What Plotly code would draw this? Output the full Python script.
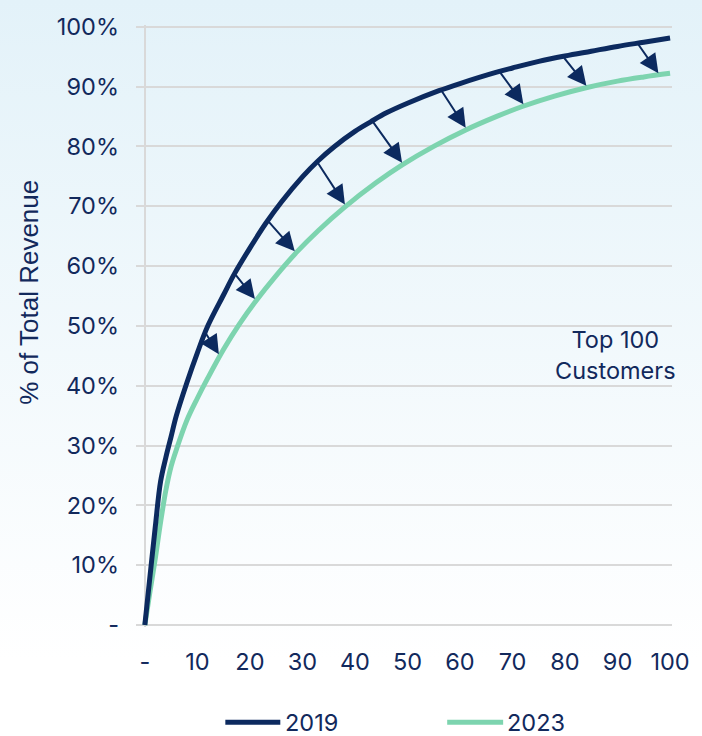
import numpy as np
import plotly.graph_objects as go

# ---------------- data ----------------
x_2019 = [0, 1, 2, 3, 4, 5, 6, 8, 10, 12, 15, 17, 20, 23, 26, 30, 33, 36, 40, 43, 46,
          50, 56, 60, 67, 70, 75, 80, 85, 90, 95, 100]
rev_2019 = [0, 8.3, 16.5, 24.0, 28.0, 31.5, 35.0, 40.5, 45.5, 50.0, 55.2, 58.6, 63.0, 67.1,
            70.7, 74.9, 77.6, 79.9, 82.5, 84.1, 85.6, 87.2, 89.3, 90.5, 92.4, 93.1, 94.2,
            95.1, 95.9, 96.7, 97.4, 98.1]

x_2023 = [0, 1, 2, 3, 4, 5, 6, 8, 10, 12, 15, 18, 21, 25, 29, 33, 38, 44, 49, 55, 61, 67,
          72, 78, 84, 90, 95, 100]
rev_2023 = [0, 5.7, 11.2, 17.2, 22.5, 26.5, 29.3, 34.2, 37.9, 41.3, 46.1, 50.3, 54.0, 58.4,
            62.4, 65.9, 69.8, 73.9, 76.9, 80.0, 82.7, 85.0, 86.7, 88.4, 89.8, 90.9, 91.6,
            92.2]

# arrows: start on the 2019 curve, point to the 2023 curve
arrow_from_x = [11.5, 17.1, 23.4, 32.8, 43.3, 56.4, 67.5, 79.6, 93.8]
arrow_to_x = [14.3, 21.2, 28.8, 38.3, 49.2, 61.3, 72.3, 84.3, 98.0]

x_tickvals = [0, 10, 20, 30, 40, 50, 60, 70, 80, 90, 100]
x_ticktext = ["-", "10", "20", "30", "40", "50", "60", "70", "80", "90", "100"]
y_tickvals = [0, 10, 20, 30, 40, 50, 60, 70, 80, 90, 100]
y_ticktext = ["-", "10%", "20%", "30%", "40%", "50%", "60%", "70%", "80%", "90%", "100%"]

series_names = ["2019", "2023"]
label_text = "Top 100<br>Customers"
label_x, label_y = 89.6, 45.2
y_title = "% of Total Revenue"

# ---------------- style ----------------
W, H = 702, 736
ML, MR, MT, MB = 136, 20, 20, 109
NAVY = "#0c2a5f"
MINT = "#7dd4af"
TEXT = "#12295c"
GRID = "#d9d9d9"
FONT = "Inter"
FS = 23.5

pw = W - ML - MR
ph = H - MT - MB


def px_to_paper_x(px):
    return (px - ML) / pw


def px_to_paper_y(py):
    return (H - MB - py) / ph


fig = go.Figure()
fig.add_trace(go.Scatter(x=x_2023, y=rev_2023, mode="lines", name=series_names[1],
                         line=dict(color=MINT, width=5, shape="spline", smoothing=1.0),
                         showlegend=False))
fig.add_trace(go.Scatter(x=x_2019, y=rev_2019, mode="lines", name=series_names[0],
                         line=dict(color=NAVY, width=5, shape="spline", smoothing=1.0),
                         showlegend=False))

shapes = []
annotations = []
arrow_from_y = np.interp(arrow_from_x, x_2019, rev_2019)
arrow_to_y = np.interp(arrow_to_x, x_2023, rev_2023)
for x0, y0, x1, y1 in zip(arrow_from_x, arrow_from_y, arrow_to_x, arrow_to_y):
    annotations.append(dict(x=x1, y=float(y1), ax=x0, ay=float(y0), xref="x", yref="y",
                            axref="x", ayref="y", text="", showarrow=True, arrowhead=2,
                            arrowsize=1.9, arrowwidth=2, arrowcolor=NAVY,
                            standoff=2, startstandoff=0))

annotations.append(dict(x=label_x, y=label_y, xref="x", yref="y", text=label_text,
                        showarrow=False, align="center", xanchor="center",
                        yanchor="middle", font=dict(family=FONT, size=FS, color=TEXT)))

annotations.append(dict(x=px_to_paper_x(27), y=px_to_paper_y(289), xref="paper",
                        yref="paper", text=y_title, textangle=-90, showarrow=False,
                        xanchor="center", yanchor="middle",
                        font=dict(family="Liberation Sans, Arial", size=26, color=TEXT)))

# legend drawn as line samples + labels
leg_y = px_to_paper_y(723)
legend_items = [(227, 283, 286, NAVY), (453, 510, 512, MINT)]
for name, (sx0, sx1, tx, col) in zip(series_names, legend_items):
    shapes.append(dict(type="line", xref="paper", yref="paper",
                       x0=px_to_paper_x(sx0), x1=px_to_paper_x(sx1), y0=leg_y, y1=leg_y,
                       line=dict(color=col, width=5)))
    annotations.append(dict(x=px_to_paper_x(tx), y=leg_y, xref="paper", yref="paper",
                            text=name, showarrow=False, xanchor="left", yanchor="middle",
                            font=dict(family=FONT, size=FS, color=TEXT)))

x_per_px = 102.05 / pw
fig.update_layout(
    width=W, height=H, autosize=False,
    margin=dict(l=ML, r=MR, t=MT, b=MB),
    paper_bgcolor="rgba(0,0,0,0)",
    plot_bgcolor="rgba(0,0,0,0)",
    showlegend=False,
    annotations=annotations,
    shapes=shapes,
    xaxis=dict(range=[-9 * x_per_px, -9 * x_per_px + 102.05],
               tickvals=x_tickvals, ticktext=x_ticktext,
               showgrid=False, zeroline=True, zerolinecolor=GRID, zerolinewidth=2,
               showline=False, ticks="", ticklabelstandoff=18,
               tickfont=dict(family=FONT, size=FS, color=TEXT)),
    yaxis=dict(range=[-0.33, 100.28], tickvals=y_tickvals, ticktext=y_ticktext,
               showgrid=True, gridcolor=GRID, gridwidth=2, zeroline=False,
               showline=False, ticks="", ticklabelstandoff=16,
               tickfont=dict(family=FONT, size=FS, color=TEXT)),
)

# page background: light blue fading to white, as in the reference
post = (
    "document.documentElement.style.height='100%';"
    "document.documentElement.style.background="
    "'linear-gradient(to bottom, rgb(227,242,249) 0px, rgb(255,255,255) 660px) no-repeat, #fff';"
    "document.body.style.margin='0';"
    "document.body.style.background='transparent';"
    "document.body.style.overflow='hidden';"
)

fig.write_html(
    "out.html",
    config={"displayModeBar": False, "responsive": False},
    post_script=post,
)
